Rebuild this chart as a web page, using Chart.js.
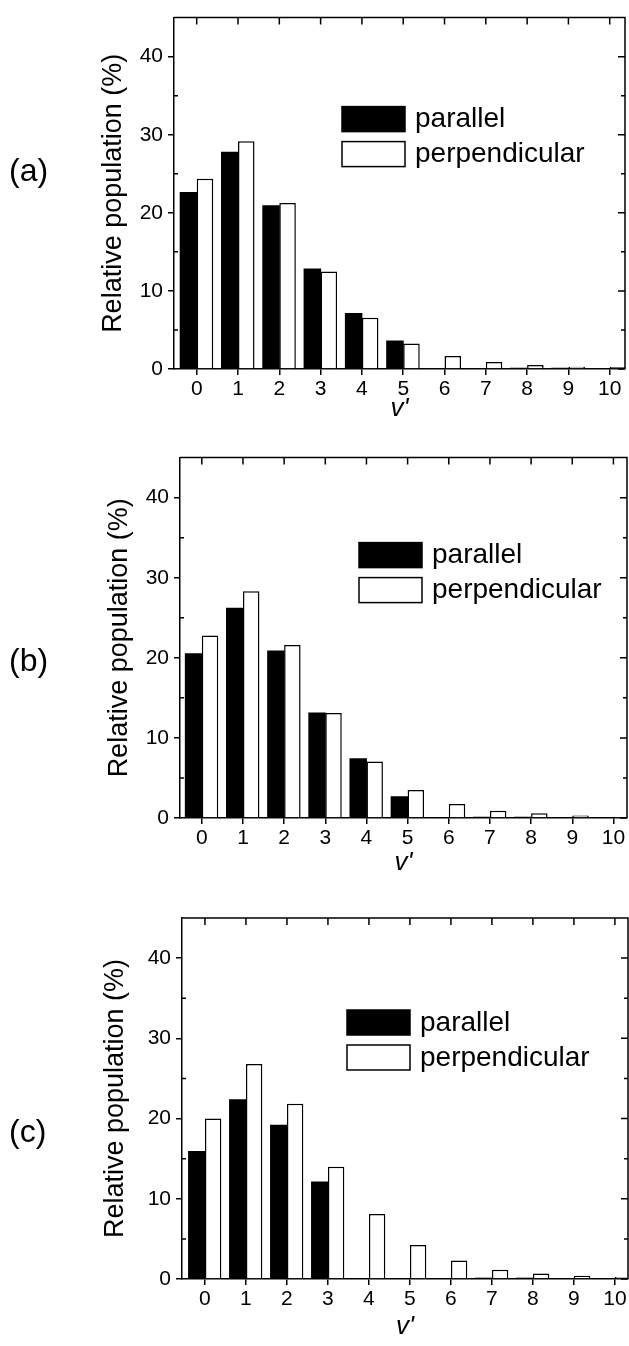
<!DOCTYPE html>
<html>
<head>
<meta charset="utf-8">
<script src="https://cdn.jsdelivr.net/npm/chart.js@4.4.1/dist/chart.umd.min.js"></script>
<style>
  body { margin: 0; background: #fff; width: 629px; height: 1346px; position: relative; overflow: hidden;
         font-family: 'Liberation Sans', Arial, sans-serif; }
  canvas { position: absolute; left: 0; }
  .tag { position: absolute; left: 9px; font-size: 32px; line-height: 36px; color: #000; }
</style>
</head>
<body>
<canvas id="chartA" width="629" height="425" style="top:0px"></canvas>
<canvas id="chartB" width="629" height="440" style="top:440px"></canvas>
<canvas id="chartC" width="629" height="451" style="top:895px"></canvas>
<div class="tag" style="top:152px">(a)</div>
<div class="tag" style="top:642px">(b)</div>
<div class="tag" style="top:1113px">(c)</div>
<script>
// vibrational levels v'
const vLevels = [0, 1, 2, 3, 4, 5, 6, 7, 8, 9, 10];
const yMajor = [0, 10, 20, 30, 40];
const yMinor = [5, 15, 25, 35];

// relative population (%)
const parallelA = [22.6, 27.75, 20.9, 12.8, 7.1, 3.6, 0, 0, 0.1, 0.05, 0];
const perpA     = [24.35, 29.15, 21.25, 12.5, 6.55, 3.25, 1.65, 0.9, 0.5, 0.3, 0.25];
const parallelB = [20.5, 26.2, 20.85, 13.1, 7.4, 2.65, 0, 0.1, 0.1, 0, 0];
const perpB     = [22.8, 28.3, 21.6, 13.1, 7.05, 3.5, 1.75, 0.9, 0.6, 0.3, 0.05];
const parallelC = [15.9, 22.35, 19.15, 12.1, 0, 0, 0, 0.1, 0.1, 0, 0];
const perpC     = [20.0, 26.8, 21.85, 14.0, 8.1, 4.25, 2.3, 1.15, 0.7, 0.4, 0.25];

Chart.defaults.font.family = "'Liberation Sans', Arial, sans-serif";
Chart.defaults.color = '#000';

// closes the box, inward ticks on top/right, minor ticks, and the legend
const frame = {
    id: 'frame',
    afterDatasetsDraw(chart, args, opts) {
        const { ctx, chartArea: a, scales: { x, y } } = chart;
        ctx.save();
        ctx.strokeStyle = '#000';
        ctx.lineWidth = 1.5;
        ctx.beginPath();
        ctx.moveTo(a.left, a.top);
        ctx.lineTo(a.right, a.top);
        ctx.lineTo(a.right, a.bottom);
        vLevels.forEach(v => {
            const px = x.getPixelForValue(v);
            ctx.moveTo(px, a.top);
            ctx.lineTo(px, a.top + 7);
        });
        yMajor.forEach(v => {
            const py = y.getPixelForValue(v);
            ctx.moveTo(a.right, py);
            ctx.lineTo(a.right - 7, py);
        });
        yMinor.forEach(v => {
            const py = y.getPixelForValue(v);
            ctx.moveTo(a.right, py);
            ctx.lineTo(a.right - 4, py);
            ctx.moveTo(a.left, py);
            ctx.lineTo(a.left + 4, py);
        });
        ctx.stroke();

        // legend
        ctx.font = "28px 'Liberation Sans', Arial, sans-serif";
        ctx.textBaseline = 'middle';
        ctx.textAlign = 'left';
        chart.data.datasets.forEach((ds, i) => {
            const bx = a.left + opts.dx;
            const by = a.top + opts.dy + i * 35;
            ctx.fillStyle = ds.backgroundColor;
            ctx.fillRect(bx, by, 63, 25);
            ctx.strokeRect(bx, by, 63, 25);
            ctx.fillStyle = '#000';
            ctx.fillText(ds.label, bx + 73, by + 13);
        });
        ctx.restore();
    }
};

function makeChart(id, par, perp, cfg) {
    return new Chart(document.getElementById(id), {
        type: 'bar',
        data: {
            datasets: [{
                label: 'parallel',
                data: vLevels.map((v, i) => ({ x: v, y: par[i] })),
                backgroundColor: '#000',
                borderWidth: 0,
                inflateAmount: 0.5,
                categoryPercentage: 0.8,
                barPercentage: 1.0
            }, {
                label: 'perpendicular',
                data: vLevels.map((v, i) => ({ x: v, y: perp[i] })),
                backgroundColor: '#fff',
                borderColor: '#000',
                borderWidth: 1.5,
                categoryPercentage: 0.8,
                barPercentage: 1.0
            }]
        },
        options: {
            responsive: false,
            animation: false,
            events: [],
            layout: { padding: { top: cfg.top, right: cfg.right, left: 0, bottom: 0 } },
            plugins: {
                legend: { display: false },
                tooltip: { enabled: false },
                frame: { dx: cfg.dx, dy: cfg.dy }
            },
            scales: {
                x: {
                    type: 'linear',
                    min: cfg.xmin,
                    max: cfg.xmax,
                    offset: false,
                    ticks: { stepSize: 1, includeBounds: false, font: { size: 21 }, padding: 2, maxRotation: 0 },
                    grid: { drawOnChartArea: false, offset: false, tickLength: 6, color: '#000', lineWidth: 1.5 },
                    border: { color: '#000', width: 1.5 },
                    title: { display: true, text: "v'", font: { size: 26, style: 'italic' }, padding: { top: 0, bottom: cfg.xtp } },
                    afterFit: s => { s.height = cfg.xh; s.paddingLeft = 0; s.paddingRight = 0; }
                },
                y: {
                    min: 0,
                    max: 45,
                    ticks: { stepSize: 10, includeBounds: false, font: { size: 21 }, padding: 5 },
                    grid: { drawOnChartArea: false, tickLength: 6, color: '#000', lineWidth: 1.5 },
                    border: { color: '#000', width: 1.5 },
                    title: { display: true, text: 'Relative population (%)', font: { size: 27 }, padding: { top: cfg.ytp, bottom: 0 } },
                    afterFit: s => { s.width = cfg.left; }
                }
            }
        },
        plugins: [frame]
    });
}

makeChart('chartA', parallelA, perpA,
    { top: 5, right: 4, left: 174, xh: 56, xtp: 1, ytp: 97, xmin: -0.55, xmax: 10.37, dx: 168, dy: 89 });
makeChart('chartB', parallelB, perpB,
    { top: 17, right: 2, left: 180, xh: 62, xtp: 2, ytp: 103, xmin: -0.53, xmax: 10.33, dx: 179, dy: 85 });
makeChart('chartC', parallelC, perpC,
    { top: 23, right: 1, left: 182, xh: 67, xtp: 4, ytp: 99, xmin: -0.56, xmax: 10.32, dx: 165, dy: 92 });
</script>
</body>
</html>
